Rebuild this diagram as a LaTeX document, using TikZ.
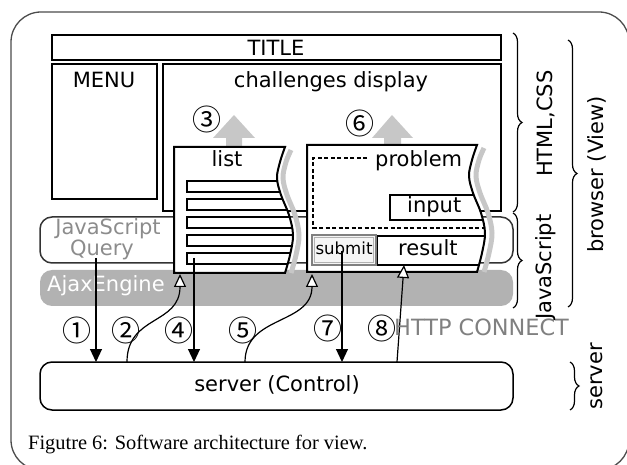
\documentclass[tikz,border=0pt]{standalone}
\usepackage{fontspec}
\setmainfont{DejaVu Sans}
\newfontfamily\capfont{Liberation Serif}
\newfontfamily\cjkfont{Noto Sans CJK JP}
\usetikzlibrary{arrows.meta,decorations.pathreplacing}
\begin{document}
\begin{tikzpicture}[x=1pt,y=-1pt,
  txt/.style={font=\fontsize{21}{25}\selectfont, inner sep=0pt},
  num/.style={font=\cjkfont\fontsize{29}{31}\selectfont, inner sep=0pt},
  boxline/.style={draw=black, line width=2pt},
  wave/.style={draw=black!22, line width=5pt},
  uparr/.style={fill=black!22, draw=none},
  fillarrow/.style={line width=1.2pt, -{Triangle[width=12pt,length=13pt]}},
  openarrow/.style={line width=1.2pt, -{Triangle[open,width=12pt,length=13pt,fill=white]}},
  brc/.style={decorate, decoration={brace, amplitude=9pt}, line width=1.2pt},
  rlabel/.style={txt, rotate=90, anchor=base west},
]
\useasboundingbox (0,0) rectangle (627,465);
% outer frame
\draw[line width=1.3pt, draw=black!70, rounded corners=30pt] (11,12) rectangle (629,470);
% Ajax engine band
\fill[black!30, rounded corners=12pt] (40,270) rectangle (513,306);
\node[txt, text=white, anchor=base west] (ajax) at (47,292) {AjaxEngine};
% JavaScript box
\draw[line width=1.5pt, draw=black!80, rounded corners=12pt] (40,217) rectangle (513,263);
\node[txt, text=black!45, anchor=base] (js) at (108,235) {JavaScript};
\node[txt, text=black!45, anchor=base] (query) at (102,256) {Query};
% HTML boxes
\draw[boxline] (52,35) rectangle (501,60);
\node[txt, anchor=base] (title) at (276,56) {TITLE};
\draw[boxline] (52,64) rectangle (157,199);
\node[txt, anchor=base] (menu) at (104,88) {MENU};
\draw[boxline] (163,64) rectangle (501,211);
\node[txt, anchor=base] (chal) at (331,88) {challenges display};
% gray up arrows
\fill[uparr] (226,150) -- (226,138) -- (213,138) -- (234,115) -- (255,138) -- (242,138) -- (242,150) -- cycle;
\fill[uparr] (384,150) -- (384,138) -- (372,138) -- (392,115) -- (413,138) -- (401,138) -- (401,150) -- cycle;
% list
\draw[wave] plot[smooth,tension=0.6] coordinates {(291,150) (286,162) (283,178) (287,195) (295,215) (299,235) (296,255) (291,273)};
\fill[white] (174,147) -- plot[smooth,tension=0.6] coordinates {(285,147) (280,162) (277,178) (281,195) (289,215) (293,235) (290,255) (285,273)} -- (174,273) -- cycle;
\begin{scope}
\clip (174,147) -- plot[smooth,tension=0.6] coordinates {(285,147) (280,162) (277,178) (281,195) (289,215) (293,235) (290,255) (285,273)} -- (174,273) -- cycle;
\foreach \y in {181,199,217,235,253} \draw[line width=2pt] (187,\y) rectangle (320,\y+11.5);
\end{scope}
\draw[boxline] (174,147) -- plot[smooth,tension=0.6] coordinates {(285,147) (280,162) (277,178) (281,195) (289,215) (293,235) (290,255) (285,273)} -- (174,273) -- cycle;
\node[txt, anchor=base] (list) at (227,167) {list};
% problem
\draw[wave] plot[smooth,tension=0.6] coordinates {(484,148) (479,160) (476,176) (480,193) (488,213) (492,233) (489,253) (484,272)};
\fill[white] (307,145) -- plot[smooth,tension=0.6] coordinates {(477,145) (472,160) (469,176) (473,193) (481,213) (485,233) (482,253) (477,272)} -- (307,272) -- cycle;
\begin{scope}
\clip (307,145) -- plot[smooth,tension=0.6] coordinates {(477,145) (472,160) (469,176) (473,193) (481,213) (485,233) (482,253) (477,272)} -- (307,272) -- cycle;
\draw[line width=1.5pt, dash pattern=on 4pt off 2.5pt] (367,158) -- (313,158) -- (313,228) -- (510,228);
\draw[line width=2pt] (390,195) rectangle (520,220);
\draw[line width=2pt] (377,236) rectangle (520,265);
\end{scope}
\draw[boxline] (307,145) -- plot[smooth,tension=0.6] coordinates {(477,145) (472,160) (469,176) (473,193) (481,213) (485,233) (482,253) (477,272)} -- (307,272) -- cycle;
\node[txt, anchor=base west] (problem) at (375,167) {problem};
\node[txt, anchor=base west] (input) at (407,213) {input};
\node[txt, anchor=base west] (result) at (398,256) {result};
% submit button
\draw[line width=1.5pt, draw=black!50, fill=black!4] (312,235) rectangle (376,265);
\draw[line width=1pt, draw=black!30] (314.5,237.5) rectangle (373.5,262.5);
\node[inner sep=0pt, font=\fontsize{16.6}{18}\selectfont, anchor=base] (submit) at (344,255) {submit};
% server
\draw[line width=1.5pt, rounded corners=12pt] (40,362) rectangle (513,410);
\node[txt, anchor=base] (server) at (277,391) {server (Control)};
% connector end points
\coordinate (q1) at (96,258);   \coordinate (s1) at (96,362);
\coordinate (s2) at (127,362);  \coordinate (l2) at (180,274);
\coordinate (l4) at (194,258);  \coordinate (s4) at (194,362);
\coordinate (s5) at (245,362);  \coordinate (p5) at (312,274);
\coordinate (b7) at (342,251);  \coordinate (s7) at (342,362);
\coordinate (s8) at (397,362);  \coordinate (r8) at (404,265);
\draw[fillarrow] (q1) -- (s1);
\draw[openarrow] (s2) .. controls (127,315) and (180,325) .. (l2);
\draw[fillarrow] (l4) -- (s4);
\draw[openarrow] (s5) .. controls (245,315) and (312,325) .. (p5);
\draw[fillarrow] (b7) -- (s7);
\draw[openarrow] (s8) -- (r8);
% numbers
\node[num] (n1) at (77,330) {①};
\node[num] (n2) at (126,330) {②};
\node[num] (n3) at (207,119) {③};
\node[num] (n4) at (179,330) {④};
\node[num] (n5) at (243,330) {⑤};
\node[num] (n6) at (360,123) {⑥};
\node[num] (n7) at (328,328) {⑦};
\node[num] (n8) at (382,328) {⑧};
% HTTP CONNECT
\node[inner sep=0pt, font=\fontsize{22.4}{25}\selectfont, text=black!50, anchor=base west] (http) at (394,335) {HTTP CONNECT};
% braces
\draw[brc] (513,33) -- (513,212);
\draw[brc] (513,213) -- (513,308);
\draw[brc] (568,40) -- (568,307);
\draw[brc] (570,362) -- (570,410);
\node[rlabel] (lhtml) at (552,177) {HTML,CSS};
\node[rlabel] (ljs) at (551,320) {JavaScript};
\node[rlabel] (lbrowser) at (603,253) {browser (View)};
\node[rlabel] (lserver) at (602,410) {server};
% caption
\node[anchor=base west, inner sep=0pt, font=\capfont\fontsize{20.4}{22}\selectfont] (caption) at (28,449) {Figutre 6: Software architecture for view.};
\end{tikzpicture}
\end{document}
